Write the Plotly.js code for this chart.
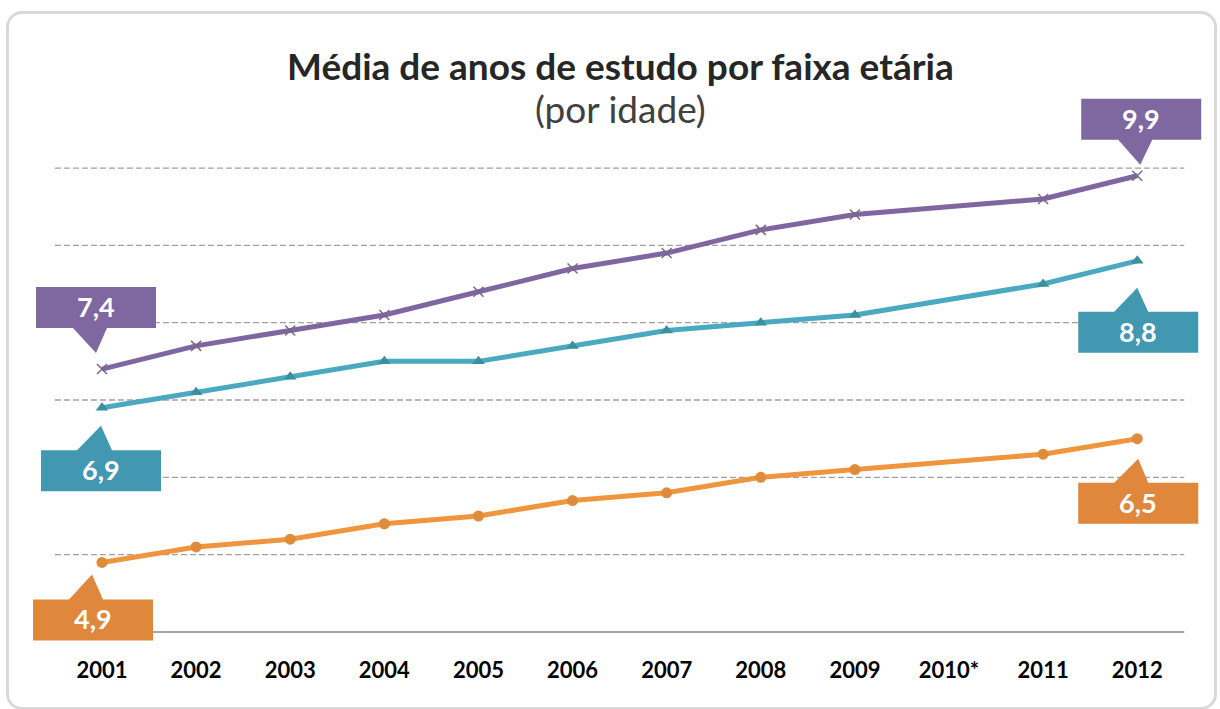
<!DOCTYPE html>
<html>
<head>
<meta charset="utf-8">
<script src="https://cdn.plot.ly/plotly-3.0.1.min.js"></script>
<style>
  html, body { margin: 0; padding: 0; background: #fff; }
  #wrap { position: relative; width: 1220px; height: 709px; }
  #chart { width: 1220px; height: 709px; }
  #frame { position: absolute; left: 6px; top: 11px; width: 1205px; height: 693px;
           border: 3px solid #D9D9D9; border-radius: 16px; pointer-events: none; }
</style>
</head>
<body>
<div id="wrap"><div id="chart"></div><div id="frame"></div></div>
<script>
// ---- data ----
const years = ['2001','2002','2003','2004','2005','2006','2007','2008','2009','2010*','2011','2012'];
const purpleValues = [7.4, 7.7, 7.9, 8.1, 8.4, 8.7, 8.9, 9.2, 9.4, null, 9.6, 9.9];
const tealValues   = [6.9, 7.1, 7.3, 7.5, 7.5, 7.7, 7.9, 8.0, 8.1, null, 8.5, 8.8];
const orangeValues = [4.9, 5.1, 5.2, 5.4, 5.5, 5.7, 5.8, 6.0, 6.1, null, 6.3, 6.5];
const gridValues = [4, 5, 6, 7, 8, 9, 10];
const titleText = 'Média de anos de estudo por faixa etária';
const subtitleText = '(por idade)';

const FONT = 'Lato, "Open Sans", sans-serif';

// ---- styles ----
const series = [
  { y: purpleValues, line: '#8066A0', fill: '#7F67A0', marker: { symbol: 'x-thin', size: 10, line: { color: '#76688A', width: 1.5 }, color: '#76688A' } },
  { y: tealValues,   line: '#4AA8C0', fill: '#4298B0', marker: { symbol: 'triangle-up', size: 11, color: '#3C8F9F' } },
  { y: orangeValues, line: '#EE953E', fill: '#DE873D', marker: { symbol: 'circle', size: 11, color: '#E08A3C' } }
];

const traces = series.map(s => ({
  type: 'scatter', mode: 'lines+markers', x: years.map((_, i) => i), y: s.y, connectgaps: true,
  line: { color: s.line, width: 5 }, marker: s.marker, hoverinfo: 'skip', showlegend: false
}));

// callout geometry (pixels, relative to data point; y positive = up)
const callouts = [
  { s: 0, i: 11, cx: 4,  cy: 56.5,  bx0: -19, bx1: 15, tx: 3,   ty: 11 },
  { s: 0, i: 0,  cx: -6, cy: 61.5,  bx0: -29, bx1: 5,  tx: -6,  ty: 16 },
  { s: 1, i: 0,  cx: -1, cy: -63,   bx0: -25, bx1: 10, tx: -1,  ty: -18 },
  { s: 1, i: 11, cx: 1,  cy: -71.5, bx0: -23, bx1: 11, tx: 0,   ty: -27 },
  { s: 2, i: 0,  cx: -9, cy: -57.5, bx0: -33, bx1: 1,  tx: -10, ty: -12 },
  { s: 2, i: 11, cx: 1,  cy: -64.5, bx0: -23, bx1: 11, tx: 1,   ty: -20 }
];
const W = 120, H = 41;

const shapes = [];
const annotations = [];

// dashed gridlines + axis line
gridValues.forEach(v => {
  shapes.push({
    type: 'line', xref: 'x', yref: 'y', x0: -0.5, x1: years.length - 0.5, y0: v, y1: v,
    line: v === gridValues[0] ? { color: '#A6A6A6', width: 2 } : { color: '#A0A0A0', width: 1.3, dash: '6px,3px' },
    layer: 'below'
  });
});

callouts.forEach(c => {
  const val = series[c.s].y[c.i];
  const x0 = c.cx - W/2, x1 = c.cx + W/2;
  const top = c.cy + H/2, bot = c.cy - H/2;
  let path;
  if (c.cy > 0) {
    path = `M${x0},${top} L${x1},${top} L${x1},${bot} L${c.bx1},${bot} L${c.tx},${c.ty} L${c.bx0},${bot} L${x0},${bot} Z`;
  } else {
    path = `M${x0},${bot} L${x1},${bot} L${x1},${top} L${c.bx1},${top} L${c.tx},${c.ty} L${c.bx0},${top} L${x0},${top} Z`;
  }
  shapes.push({
    type: 'path', xref: 'x', yref: 'y', xsizemode: 'pixel', ysizemode: 'pixel',
    xanchor: c.i, yanchor: val, path: path,
    fillcolor: series[c.s].fill, line: { width: 0 }, layer: 'above'
  });
  annotations.push({
    xref: 'x', yref: 'y', x: c.i, y: val, xshift: c.cx, yshift: c.cy + 1,
    text: val.toFixed(1).replace('.', ','), showarrow: false,
    font: { family: FONT, size: 27, color: '#FFFFFF', weight: 700 },
    xanchor: 'center', yanchor: 'middle'
  });
});

// title & subtitle
annotations.push({
  xref: 'paper', yref: 'paper', x: 0.5, y: 1, xanchor: 'center', yanchor: 'middle', yshift: 25, xshift: 3,
  text: '<b>' + titleText + '</b>', showarrow: false,
  font: { family: FONT, size: 37, color: '#262626' }
});
annotations.push({
  xref: 'paper', yref: 'paper', x: 0.5, y: 1, xanchor: 'center', yanchor: 'middle', yshift: -18, xshift: 3,
  text: subtitleText, showarrow: false,
  font: { family: FONT, size: 37, color: '#404040' }
});

const layout = {
  width: 1220, height: 709,
  margin: { l: 30, r: 15, t: 90, b: 63 },
  paper_bgcolor: '#FFFFFF', plot_bgcolor: '#FFFFFF',
  xaxis: {
    type: 'linear', range: [-0.765, 11.72], showgrid: false, zeroline: false, showline: false,
    tickmode: 'array', tickvals: years.map((_, i) => i), ticktext: years,
    ticks: '', ticklabelstandoff: 9,
    tickfont: { family: FONT, size: 22, color: '#000000', weight: 700 },
    fixedrange: true
  },
  yaxis: {
    range: [3.819, 11.009], showticklabels: false, zeroline: false, showgrid: false,
    fixedrange: true
  },
  shapes: shapes,
  annotations: annotations,
  showlegend: false
};

Plotly.newPlot('chart', traces, layout, { displayModeBar: false, staticPlot: true });
</script>
</body>
</html>
